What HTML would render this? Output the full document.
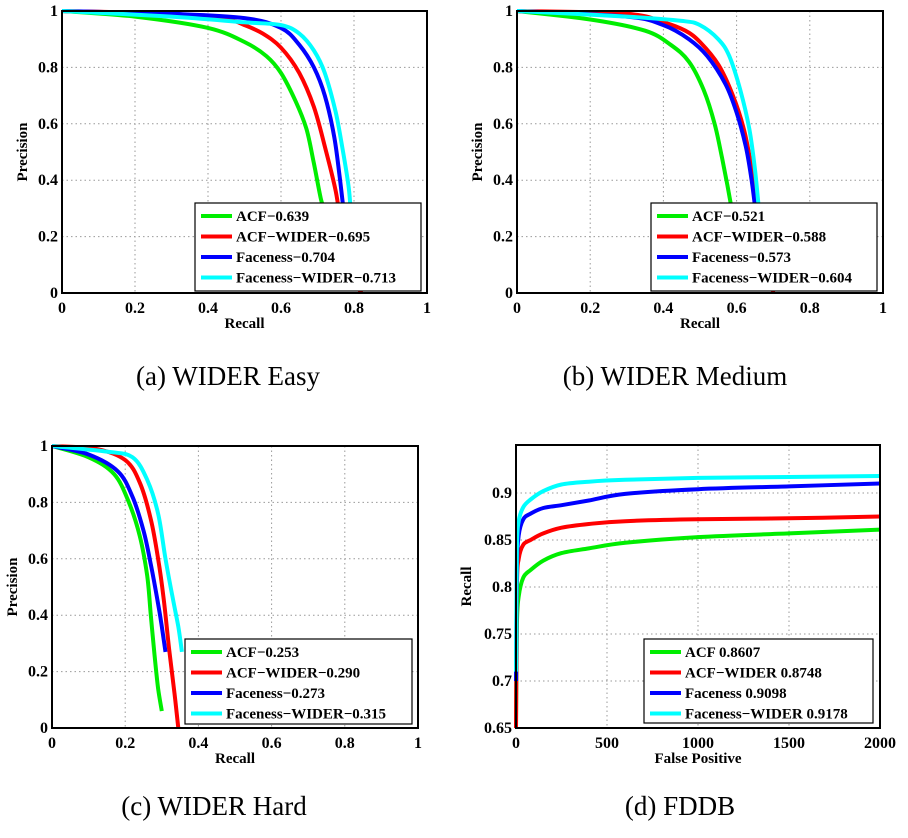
<!DOCTYPE html>
<html><head><meta charset="utf-8"><style>
body{margin:0;background:#fff;width:908px;height:838px;overflow:hidden}
svg{display:block;font-family:"Liberation Serif",serif}
</style></head><body>
<svg id="fig" width="908" height="838"></svg>
<script>
// ---- data ----
const colors=["#00ee00","#ff0000","#0000ff","#00ffff"];
const easyNames=["ACF\u22120.639","ACF\u2212WIDER\u22120.695","Faceness\u22120.704","Faceness\u2212WIDER\u22120.713"];
const easyR=[[0,0.2,0.4,0.5,0.56,0.6,0.64,0.67,0.69,0.71,0.72],[0,0.3,0.45,0.5,0.55,0.6,0.65,0.69,0.72,0.75,0.77,0.8,0.82],[0,0.3,0.5,0.6,0.65,0.69,0.72,0.745,0.76,0.77],[0,0.3,0.5,0.6,0.65,0.69,0.72,0.75,0.77,0.785,0.79]];
const easyP=[[1,0.98,0.94,0.89,0.84,0.78,0.68,0.58,0.46,0.33,0.3],[1,0.99,0.97,0.95,0.92,0.87,0.78,0.66,0.52,0.36,0.2,0.05,0],[1,0.99,0.975,0.94,0.88,0.8,0.7,0.56,0.42,0.31],[1,0.98,0.96,0.95,0.92,0.86,0.78,0.64,0.5,0.38,0.31]];
const medNames=["ACF\u22120.521","ACF\u2212WIDER\u22120.588","Faceness\u22120.573","Faceness\u2212WIDER\u22120.604"];
const medR=[[0,0.2,0.35,0.42,0.47,0.51,0.54,0.56,0.575,0.585],[0,0.3,0.4,0.46,0.5,0.55,0.59,0.62,0.64,0.655,0.69,0.7],[0,0.3,0.4,0.47,0.52,0.57,0.6,0.625,0.64,0.65],[0,0.3,0.45,0.5,0.55,0.58,0.61,0.635,0.65,0.66]];
const medP=[[1,0.97,0.93,0.88,0.82,0.72,0.6,0.48,0.38,0.31],[1,0.99,0.96,0.93,0.89,0.81,0.7,0.58,0.45,0.32,0.1,0],[1,0.98,0.95,0.9,0.84,0.74,0.64,0.52,0.41,0.31],[1,0.98,0.965,0.95,0.9,0.84,0.72,0.58,0.44,0.31]];
const hardNames=["ACF\u22120.253","ACF\u2212WIDER\u22120.290","Faceness\u22120.273","Faceness\u2212WIDER\u22120.315"];
const hardR=[[0,0.1,0.17,0.21,0.24,0.26,0.27,0.28,0.29,0.3],[0,0.12,0.2,0.24,0.27,0.29,0.305,0.32,0.335,0.345],[0,0.1,0.18,0.22,0.25,0.27,0.29,0.3,0.31],[0,0.15,0.22,0.26,0.29,0.31,0.33,0.345,0.355]];
const hardP=[[1,0.96,0.9,0.8,0.68,0.54,0.4,0.26,0.14,0.06],[1,0.99,0.95,0.87,0.74,0.6,0.46,0.28,0.12,0],[1,0.97,0.91,0.82,0.7,0.58,0.44,0.36,0.27],[1,0.98,0.96,0.88,0.76,0.6,0.46,0.36,0.27]];
const fddbNames=["ACF 0.8607","ACF\u2212WIDER 0.8748","Faceness 0.9098","Faceness\u2212WIDER 0.9178"];
const fddbX=[[0,5,15,40,80,150,250,400,600,1000,1500,2000],[0,5,15,40,80,150,250,400,600,1000,1500,2000],[0,5,15,40,80,150,250,400,600,1000,1500,2000],[0,5,15,40,80,150,250,400,600,1000,1500,2000]];
const fddbY=[[0.65,0.76,0.79,0.81,0.818,0.828,0.836,0.841,0.847,0.853,0.857,0.861],[0.65,0.8,0.83,0.845,0.85,0.857,0.863,0.867,0.87,0.872,0.873,0.875],[0.7,0.82,0.855,0.872,0.878,0.884,0.887,0.892,0.899,0.904,0.907,0.91],[0.71,0.84,0.87,0.885,0.893,0.902,0.909,0.912,0.914,0.916,0.917,0.918]];
const prTicks=[0,0.2,0.4,0.6,0.8,1];
const prTickLabels=["0","0.2","0.4","0.6","0.8","1"];
const fdXTicks=[0,500,1000,1500,2000];
const fdYTicks=[0.65,0.7,0.75,0.8,0.85,0.9];

const NS="http://www.w3.org/2000/svg";
const svg=document.getElementById('fig');
function el(tag,attrs,parent,text){const e=document.createElementNS(NS,tag);for(const k in attrs)e.setAttribute(k,attrs[k]);if(text!=null)e.textContent=text;(parent||svg).appendChild(e);return e;}
function smooth(p){let d='M'+p[0][0].toFixed(1)+','+p[0][1].toFixed(1);
  for(let i=0;i<p.length-1;i++){const a=p[Math.max(0,i-1)],b=p[i],c=p[i+1],e=p[Math.min(p.length-1,i+2)];
    const c1=[b[0]+(c[0]-a[0])/6,b[1]+(c[1]-a[1])/6],c2=[c[0]-(e[0]-b[0])/6,c[1]-(e[1]-b[1])/6];
    d+=` C${c1[0].toFixed(1)},${c1[1].toFixed(1)} ${c2[0].toFixed(1)},${c2[1].toFixed(1)} ${c[0].toFixed(1)},${c[1].toFixed(1)}`;}
  return d;}

function panel(cfg){
  const g=el('g',{});
  
  
  const {x0,x1,y0,y1,xmin,xmax,ymin,ymax}=cfg;
  const sx=v=>x0+(v-xmin)/(xmax-xmin)*(x1-x0);
  const sy=v=>y1-(v-ymin)/(ymax-ymin)*(y1-y0);
  cfg.xt.forEach((t,i)=>{const X=sx(t);
    if(i>0&&i<cfg.xt.length-1){const l=el('line',{x1:X,x2:X,y1:y0,y2:y1,stroke:'#999','stroke-dasharray':'1.5,3','stroke-width':1},g);}
    const tx=el('text',{x:X,y:y1+20,'text-anchor':'middle','font-size':16,'font-weight':'bold'},g,cfg.xl[i]);
    
  });
  cfg.yt.forEach((t,i)=>{const Y=sy(t);
    if(i>0&&t<ymax){const l=el('line',{x1:x0,x2:x1,y1:Y,y2:Y,stroke:'#999','stroke-dasharray':'1.5,3','stroke-width':1},g);}
    const ty=el('text',{x:x0-4,y:Y+5,'text-anchor':'end','font-size':16,'font-weight':'bold'},g,cfg.yl[i]);
    
  });
  cfg.xs.forEach((xs,s)=>{
    const pts=xs.map((v,i)=>[sx(v),sy(cfg.ys[s][i])]);
    const pl=el('path',{d:smooth(pts),fill:'none',stroke:colors[s],'stroke-width':4,'stroke-linejoin':'round'},g);
    
    
  });
  const bx=el('rect',{x:x0,y:y0,width:x1-x0,height:y1-y0,fill:'none',stroke:'#000','stroke-width':2},g);
  
  const L=cfg.leg;
  const lg=el('g',{},g);
  
  el('rect',{x:L.x,y:L.y,width:L.w,height:L.h,fill:'#fff',stroke:'#000','stroke-width':1.2},lg);
  cfg.names.forEach((n,i)=>{const Y=L.y+13+i*20.5;
    const ln=el('line',{x1:L.x+6,x2:L.x+37,y1:Y,y2:Y,stroke:colors[i],'stroke-width':4},lg);
    
    const t=el('text',{x:L.x+41,y:Y+5,'font-size':15,'font-weight':'bold'},lg,n);
    
  });
  const xt=el('text',{x:(x0+x1)/2,y:y1+35,'text-anchor':'middle','font-size':15,'font-weight':'bold'},g,cfg.xlabel);
  
  const cy=(y0+y1)/2;
  const yt=el('text',{x:cfg.ylx,y:cy,'text-anchor':'middle','font-size':15,'font-weight':'bold',transform:`rotate(-90 ${cfg.ylx} ${cy})`},g,cfg.ylabel);
  
  const cap=el('text',{x:cfg.cap[0],y:cfg.cap[1],'text-anchor':'middle','font-size':27},g,cfg.cap[2]);
  
}
const prBase={xmin:0,xmax:1,ymin:0,ymax:1,xt:prTicks,yt:prTicks,xl:prTickLabels,yl:prTickLabels,xlabel:'Recall',ylabel:'Precision'};
panel(Object.assign({},prBase,{id:'panel-wider-easy',x0:62,x1:427,y0:11,y1:293,xs:easyR,ys:easyP,names:easyNames,leg:{x:195,y:203,w:226,h:88},ylx:27,cap:[228,385,'(a)  WIDER Easy']}));
panel(Object.assign({},prBase,{id:'panel-wider-medium',x0:517,x1:883,y0:11,y1:293,xs:medR,ys:medP,names:medNames,leg:{x:651,y:203,w:226,h:88},ylx:482,cap:[675,385,'(b)  WIDER Medium']}));
panel(Object.assign({},prBase,{id:'panel-wider-hard',x0:52,x1:418,y0:446,y1:728,xs:hardR,ys:hardP,names:hardNames,leg:{x:185,y:639,w:227,h:85},ylx:17,cap:[214,815,'(c)  WIDER Hard']}));
panel({id:'panel-fddb',x0:516,x1:880,y0:445,y1:728,xmin:0,xmax:2000,ymin:0.65,ymax:0.951,xt:fdXTicks,yt:fdYTicks,xl:fdXTicks.map(String),yl:fdYTicks.map(String),xlabel:'False Positive',ylabel:'Recall',xs:fddbX,ys:fddbY,names:fddbNames,leg:{x:644,y:639,w:229,h:84},ylx:471,cap:[680,815,'(d)  FDDB']});
</script>
</body></html>
